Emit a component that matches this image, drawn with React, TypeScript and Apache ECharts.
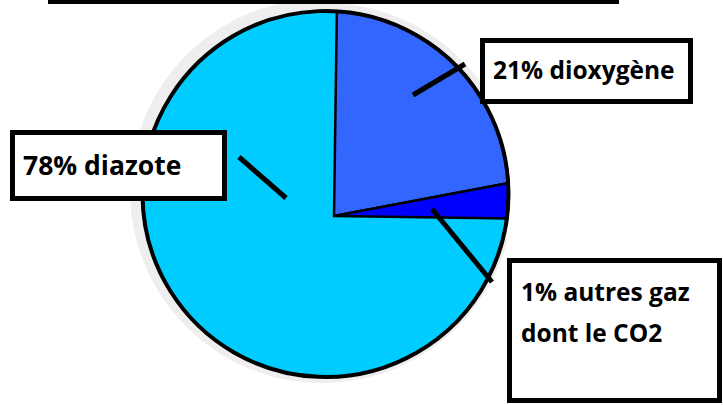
import React, { useEffect, useRef } from "react";
import * as echarts from "echarts";

// Labels as printed in the reference
const gasNames = ["dioxygène", "autres gaz dont le CO2", "diazote"];
const labelPercents = [21, 1, 78];
// Angular shares of the slices as drawn in the picture (clockwise from the top)
const sliceShares = [21.8, 3.2, 75.0];
const sliceColors = ["#3366FF", "#0000FF", "#00CCFF"];

const FONT = '"Open Sans", "Noto Sans", sans-serif';
const deg = (d: number) => (d * Math.PI) / 180;

export default function App() {
  const ref = useRef<HTMLDivElement>(null);

  useEffect(() => {
    if (!ref.current) return;
    const chart = echarts.init(ref.current, undefined, { renderer: "svg" });

    // slices drawn from the vertex; the diazote part is supplied by the disc below
    const sliceData = gasNames.map((n, i) => ({
      name: n,
      value: sliceShares[i],
      itemStyle:
        i === 2
          ? { color: "rgba(0,0,0,0)", borderWidth: 0 }
          : { color: sliceColors[i] },
    }));

    const textEl = (text: string, x: number, y: number, size = 25) => ({
      type: "text",
      z: 20,
      style: {
        text,
        x,
        y,
        fontFamily: FONT,
        fontWeight: "bold",
        fontSize: size,
        fill: "#000",
        textAlign: "left",
        textVerticalAlign: "middle",
      },
    });

    const box = (x: number, y: number, w: number, h: number) => ({
      type: "rect",
      z: 15,
      shape: { x, y, width: w, height: h },
      style: { fill: "#fff", stroke: "#000", lineWidth: 5 },
    });

    const pointer = (x1: number, y1: number, x2: number, y2: number) => ({
      type: "line",
      z: 12,
      shape: { x1, y1, x2, y2 },
      style: { stroke: "#000", lineWidth: 5 },
    });

    const cx = 325.5;
    const cy = 194;
    const R = 183;

    chart.setOption({
      animation: false,
      backgroundColor: "#fff",
      series: [
        {
          type: "pie",
          z: 2,
          center: [cx, cy],
          radius: R,
          silent: true,
          label: { show: false },
          labelLine: { show: false },
          emphasis: { disabled: true },
          itemStyle: { borderWidth: 0 },
          data: [
            {
              name: gasNames[2],
              value: sliceShares[2],
              itemStyle: { color: sliceColors[2] },
            },
          ],
        },
        {
          type: "pie",
          z: 3,
          center: [334, 216],
          radius: 212,
          startAngle: 89.2,
          clockwise: true,
          silent: true,
          label: { show: false },
          labelLine: { show: false },
          emphasis: { disabled: true },
          itemStyle: { borderColor: "#000", borderWidth: 2.5 },
          data: sliceData,
        },
      ],
      graphic: [
        {
          type: "circle",
          z: 0,
          shape: { cx: 322, cy: 191, r: 192 },
          style: { fill: "#EEEEEE" },
        },
        // trims the slices to the pie outline
        {
          type: "sector",
          z: 5,
          shape: {
            cx,
            cy,
            r0: R + 1.5,
            r: 262,
            startAngle: deg(-89),
            endAngle: deg(14),
            clockwise: true,
          },
          style: { fill: "#fff" },
        },
        {
          type: "sector",
          z: 6,
          shape: {
            cx,
            cy,
            r0: R + 1.5,
            r: 191,
            startAngle: deg(-89),
            endAngle: deg(-30),
            clockwise: true,
          },
          style: { fill: "#EEEEEE" },
        },
        // pie outline
        {
          type: "circle",
          z: 7,
          shape: { cx, cy, r: R },
          style: { fill: "none", stroke: "#000", lineWidth: 4 },
        },
        {
          type: "line",
          z: 10,
          shape: { x1: 48, y1: 2, x2: 619, y2: 2 },
          style: { stroke: "#000", lineWidth: 4 },
        },
        pointer(413, 95, 465, 64),
        pointer(239, 157, 286, 198),
        pointer(432, 209, 492, 282),
        box(482.5, 40.5, 208, 61),
        box(12.5, 132.5, 212, 66),
        box(509.5, 260.5, 210, 140),
        textEl(`${labelPercents[0]}% ${gasNames[0]}`, 493, 69.5, 24.5),
        textEl(`${labelPercents[2]}% ${gasNames[2]}`, 23, 164.5, 26.5),
        textEl(`${labelPercents[1]}% autres gaz`, 521, 291, 24.5),
        textEl("dont le CO2", 521, 332, 24.5),
      ],
    });

    return () => chart.dispose();
  }, []);

  return (
    <div
      ref={ref}
      style={{ position: "fixed", left: 0, top: 0, width: 723, height: 405 }}
    />
  );
}
